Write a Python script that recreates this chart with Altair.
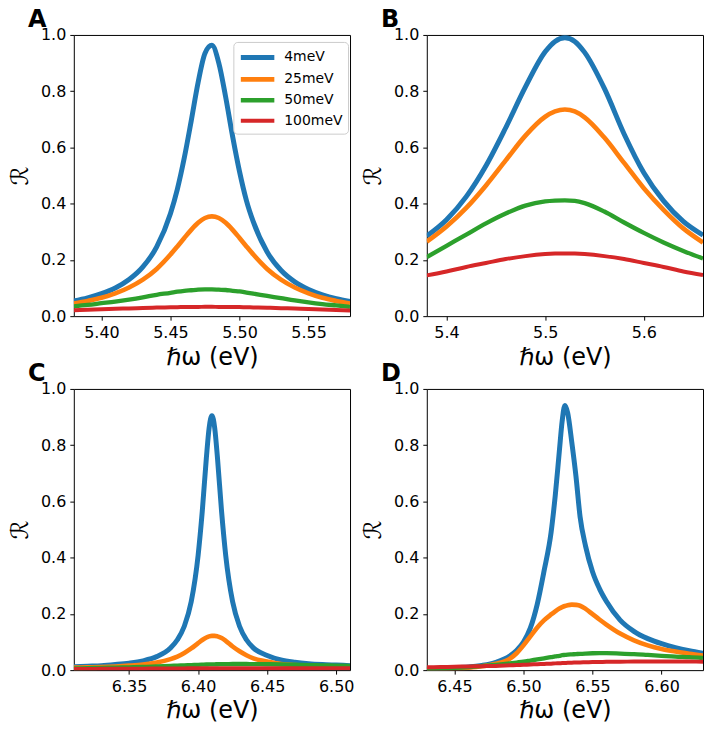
import altair as alt
import pandas as pd

series = ["4meV", "25meV", "50meV", "100meV"]
colors = ["#1f77b4", "#ff7f0e", "#2ca02c", "#d62728"]
widths = [5, 4, 3, 2]

# Panel A
xA = [5.38, 5.39, 5.40, 5.41, 5.42, 5.43, 5.44, 5.45, 5.455, 5.46, 5.465, 5.47, 5.475, 5.48,
      5.485, 5.49, 5.495, 5.50, 5.505, 5.51, 5.52, 5.53, 5.54, 5.55, 5.56, 5.57, 5.58]
A_4 = [0.054, 0.065, 0.080, 0.100, 0.130, 0.175, 0.246, 0.365, 0.452, 0.563, 0.694, 0.831, 0.935, 0.963,
       0.900, 0.778, 0.639, 0.514, 0.411, 0.335, 0.228, 0.163, 0.122, 0.095, 0.076, 0.062, 0.052]
A_25 = [0.045, 0.054, 0.065, 0.081, 0.102, 0.130, 0.168, 0.219, 0.248, 0.278, 0.307, 0.332, 0.349, 0.355,
        0.349, 0.332, 0.307, 0.278, 0.248, 0.219, 0.168, 0.130, 0.102, 0.081, 0.065, 0.054, 0.045]
A_50 = [0.035, 0.040, 0.046, 0.052, 0.059, 0.067, 0.076, 0.083, 0.087, 0.090, 0.092, 0.094, 0.095, 0.095,
        0.094, 0.093, 0.090, 0.088, 0.084, 0.080, 0.072, 0.064, 0.056, 0.049, 0.043, 0.038, 0.033]
A_100 = [0.021, 0.0226, 0.0243, 0.0259, 0.0275, 0.029, 0.0304, 0.0315, 0.032, 0.0324, 0.0327, 0.0329, 0.033, 0.033,
         0.0329, 0.0327, 0.0324, 0.0321, 0.0316, 0.0311, 0.0299, 0.0284, 0.0269, 0.0253, 0.0236, 0.022, 0.0204]

# Panel B
xB = [5.38, 5.40, 5.42, 5.44, 5.46, 5.48, 5.50, 5.51, 5.52, 5.53, 5.54, 5.56, 5.58, 5.60, 5.62, 5.64, 5.66]
B_4 = [0.285, 0.343, 0.425, 0.535, 0.67, 0.815, 0.94, 0.977, 0.99, 0.977, 0.938, 0.81, 0.648, 0.51, 0.41, 0.337, 0.288]
B_25 = [0.265, 0.319, 0.385, 0.465, 0.554, 0.642, 0.709, 0.728, 0.735, 0.728, 0.707, 0.635, 0.545, 0.455, 0.378, 0.312, 0.262]
B_50 = [0.21, 0.25, 0.29, 0.33, 0.365, 0.393, 0.408, 0.411, 0.412, 0.41, 0.402, 0.372, 0.333, 0.296, 0.262, 0.232, 0.205]
B_100 = [0.145, 0.159, 0.175, 0.189, 0.203, 0.2135, 0.2206, 0.2224, 0.223, 0.2224, 0.2206, 0.2135, 0.203, 0.189, 0.175, 0.159, 0.146]

# Panel C
xC = [6.31, 6.32, 6.33, 6.34, 6.35, 6.36, 6.37, 6.38, 6.385, 6.39, 6.395, 6.40, 6.403, 6.406, 6.408, 6.41,
      6.412, 6.414, 6.417, 6.42, 6.425, 6.43, 6.435, 6.44, 6.45, 6.46, 6.47, 6.48, 6.49, 6.50, 6.51]
C_4 = [0.012, 0.014, 0.016, 0.020, 0.025, 0.033, 0.048, 0.079, 0.108, 0.156, 0.243, 0.408, 0.564, 0.756, 0.862, 0.905,
       0.862, 0.756, 0.564, 0.408, 0.243, 0.156, 0.108, 0.079, 0.052, 0.036, 0.028, 0.023, 0.020, 0.018, 0.016]
C_25 = [0.009, 0.010, 0.011, 0.013, 0.016, 0.020, 0.027, 0.039, 0.048, 0.061, 0.077, 0.096, 0.107, 0.116, 0.120, 0.122,
        0.122, 0.120, 0.114, 0.104, 0.084, 0.067, 0.053, 0.042, 0.031, 0.022, 0.018, 0.015, 0.013, 0.012, 0.012]
C_50 = [0.006, 0.007, 0.008, 0.009, 0.010, 0.011, 0.013, 0.015, 0.016, 0.017, 0.018, 0.019, 0.0195, 0.020, 0.0202, 0.0205,
        0.0207, 0.021, 0.0212, 0.0215, 0.0217, 0.0218, 0.0217, 0.0215, 0.021, 0.020, 0.019, 0.018, 0.017, 0.016, 0.015]
C_100 = [0.004, 0.0042, 0.0045, 0.0048, 0.005, 0.0053, 0.0056, 0.0059, 0.006, 0.0062, 0.0063, 0.0064, 0.0065, 0.0065, 0.0066, 0.0066,
         0.0067, 0.0067, 0.0068, 0.0068, 0.0069, 0.0069, 0.0069, 0.0069, 0.0069, 0.0068, 0.0067, 0.0066, 0.0065, 0.0064, 0.0063]

# Panel D
xD = [6.43, 6.44, 6.45, 6.46, 6.47, 6.48, 6.49, 6.495, 6.50, 6.505, 6.51, 6.515, 6.52, 6.523, 6.526, 6.528,
      6.53, 6.532, 6.535, 6.538, 6.541, 6.545, 6.55, 6.555, 6.56, 6.57, 6.58, 6.59, 6.60, 6.61, 6.62, 6.63]
D_4 = [0.004, 0.006, 0.008, 0.011, 0.017, 0.028, 0.050, 0.070, 0.100, 0.150, 0.235, 0.355, 0.490, 0.620, 0.780, 0.885,
       0.941, 0.915, 0.810, 0.690, 0.545, 0.440, 0.350, 0.290, 0.245, 0.178, 0.138, 0.112, 0.094, 0.080, 0.069, 0.060]
D_25 = [0.003, 0.004, 0.006, 0.009, 0.014, 0.023, 0.040, 0.060, 0.088, 0.120, 0.152, 0.178, 0.198, 0.209, 0.219, 0.224,
        0.228, 0.231, 0.233, 0.232, 0.229, 0.218, 0.199, 0.180, 0.162, 0.130, 0.106, 0.088, 0.075, 0.066, 0.058, 0.052]
D_50 = [0.004, 0.006, 0.008, 0.011, 0.015, 0.019, 0.024, 0.027, 0.030, 0.034, 0.038, 0.042, 0.046, 0.049, 0.051, 0.053,
        0.054, 0.055, 0.056, 0.057, 0.058, 0.059, 0.060, 0.0605, 0.0605, 0.059, 0.057, 0.054, 0.051, 0.048, 0.046, 0.043]
D_100 = [0.010, 0.011, 0.012, 0.013, 0.014, 0.015, 0.017, 0.018, 0.019, 0.020, 0.021, 0.022, 0.023, 0.024, 0.0245, 0.025,
         0.0255, 0.026, 0.0265, 0.027, 0.0275, 0.028, 0.0285, 0.029, 0.0295, 0.030, 0.0305, 0.031, 0.031, 0.031, 0.0305, 0.030]

y_ticks = [0.0, 0.2, 0.4, 0.6, 0.8, 1.0]
FONT = "DejaVu Sans"


def frame(x, ys):
    rows = []
    for name, vals in zip(series, ys):
        for xv, yv in zip(x, vals):
            rows.append({"x": xv, "y": yv, "series": name})
    return pd.DataFrame(rows)


def panel(df, letter, domain, ticks, fmt, show_legend=False):
    if show_legend:
        leg = alt.Legend(title=None, orient="none", legendX=160, legendY=7, symbolType="M-1,0H3.2",
                         symbolSize=256, labelFontSize=14, labelFont=FONT, labelColor="black",
                         fillColor="white", strokeColor="#cccccc", cornerRadius=4, padding=5,
                         rowPadding=1, labelOffset=25)
    else:
        leg = None
    lines = alt.Chart(df).mark_line(interpolate="monotone", clip=True).encode(
        x=alt.X("x:Q", scale=alt.Scale(domain=domain, nice=False, zero=False),
                axis=alt.Axis(values=ticks, format=fmt, title="ℏω (eV)")),
        y=alt.Y("y:Q", scale=alt.Scale(domain=[0, 1], nice=False),
                axis=alt.Axis(values=y_ticks, format=".1f", title="ℛ")),
        color=alt.Color("series:N", scale=alt.Scale(domain=series, range=colors), legend=leg),
        strokeWidth=alt.StrokeWidth("series:N", scale=alt.Scale(domain=series, range=widths), legend=leg),
    )
    lab = alt.Chart(pd.DataFrame({"t": [letter]})).mark_text(
        align="left", baseline="alphabetic", fontSize=24, fontWeight="bold", font=FONT, color="black"
    ).encode(text="t:N", x=alt.value(-46), y=alt.value(-8))
    return alt.layer(lines, lab).properties(width=277, height=282)


pA = panel(frame(xA, [A_4, A_25, A_50, A_100]), "A", [5.38, 5.58], [5.40, 5.45, 5.50, 5.55], ".2f", True)
pB = panel(frame(xB, [B_4, B_25, B_50, B_100]), "B", [5.38, 5.66], [5.4, 5.5, 5.6], ".1f")
pC = panel(frame(xC, [C_4, C_25, C_50, C_100]), "C", [6.31, 6.51], [6.35, 6.40, 6.45, 6.50], ".2f")
pD = panel(frame(xD, [D_4, D_25, D_50, D_100]), "D", [6.43, 6.63], [6.45, 6.50, 6.55, 6.60], ".2f")

chart = alt.concat(pA, pB, pC, pD, columns=2, spacing={"row": 73, "column": 77}, bounds="flush").resolve_scale(
    color="independent", strokeWidth="independent"
).properties(
    padding={"left": 0, "top": -2, "right": 0, "bottom": 0},
).configure(background="white").configure_view(stroke="black", strokeWidth=1).configure_axis(
    domain=False, grid=False, labelFont=FONT, labelFontSize=16, labelColor="black",
    tickColor="black", tickSize=4, tickWidth=1, labelPadding=4,
    titleFont=FONT, titleFontSize=24, titleFontWeight="normal", titleColor="black",
).configure_axisX(titlePadding=5).configure_axisY(titlePadding=8)

chart.save("out.html", embed_options={"renderer": "svg", "actions": False})
